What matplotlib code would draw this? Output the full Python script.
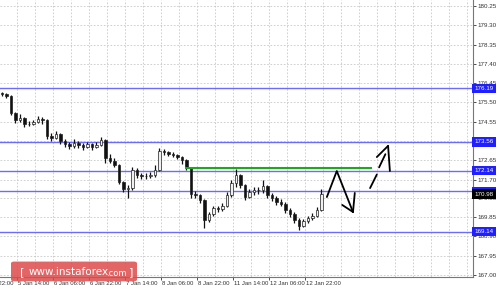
import numpy as np
import matplotlib
matplotlib.use("Agg")
import matplotlib.pyplot as plt
from matplotlib.patches import Rectangle, FancyBboxPatch
import matplotlib.transforms as mtransforms

# --- datos (barras de 2 horas) ---
opens = [175.95, 175.91, 175.82, 174.98, 174.63, 174.73, 174.44, 174.44, 174.54, 174.68,
         174.63, 173.85, 173.75, 173.94, 173.60, 173.45, 173.35, 173.50, 173.40, 173.30,
         173.45, 173.30, 173.40, 173.65, 172.76, 172.61, 172.42, 171.58, 171.24, 171.28,
         172.17, 171.92, 171.88, 171.88, 171.92, 172.17, 173.11, 173.06, 172.96, 172.91,
         172.81, 172.66, 172.27, 170.99, 170.94, 170.69, 169.71, 170.00, 170.30, 170.25,
         170.40, 170.94, 171.53, 171.92, 171.43, 170.84, 171.09, 171.19, 171.19, 171.38,
         170.94, 170.79, 170.60, 170.50, 170.20, 170.00, 169.71, 169.41, 169.66, 169.81,
         169.90, 170.20]
closes = [175.91, 175.82, 174.98, 174.63, 174.73, 174.44, 174.44, 174.54, 174.68, 174.63,
          173.85, 173.75, 173.94, 173.60, 173.45, 173.35, 173.50, 173.40, 173.30, 173.45,
          173.30, 173.40, 173.65, 172.76, 172.61, 172.42, 171.58, 171.24, 171.28, 172.17,
          171.92, 171.88, 171.88, 171.92, 172.17, 173.11, 173.06, 172.96, 172.91, 172.81,
          172.66, 172.27, 170.99, 170.94, 170.69, 169.71, 170.00, 170.30, 170.25, 170.40,
          170.94, 171.53, 171.92, 171.43, 170.84, 171.09, 171.19, 171.19, 171.38, 170.94,
          170.79, 170.60, 170.50, 170.20, 170.00, 169.71, 169.41, 169.66, 169.81, 169.90,
          170.20, 170.98]
highs = [176.02, 175.98, 175.85, 175.05, 174.95, 174.80, 174.58, 174.66, 174.85, 174.78,
         174.70, 173.98, 174.10, 173.98, 173.70, 173.55, 173.68, 173.62, 173.48, 173.55,
         173.50, 173.55, 173.78, 173.70, 172.95, 172.75, 172.48, 171.65, 171.45, 172.30,
         172.28, 172.02, 172.00, 172.08, 172.40, 173.25, 173.20, 173.12, 173.05, 172.98,
         172.85, 172.70, 172.30, 171.15, 171.00, 170.75, 170.12, 170.40, 170.42, 170.55,
         171.10, 171.70, 172.24, 171.98, 171.50, 171.25, 171.32, 171.35, 171.68, 171.45,
         171.02, 170.90, 170.75, 170.58, 170.28, 170.08, 169.80, 169.78, 169.92, 170.05,
         170.35, 171.25]
lows = [175.80, 175.70, 174.90, 174.50, 174.55, 174.30, 174.32, 174.40, 174.50, 174.45,
        173.70, 173.62, 173.68, 173.45, 173.30, 173.20, 173.25, 173.28, 173.15, 173.25,
        173.18, 173.25, 173.35, 172.50, 172.50, 172.30, 171.50, 171.10, 170.78, 171.20,
        171.80, 171.72, 171.75, 171.78, 171.85, 172.10, 172.92, 172.85, 172.80, 172.70,
        172.45, 172.15, 170.80, 170.78, 170.55, 169.32, 169.60, 169.90, 170.10, 170.15,
        170.35, 170.85, 171.35, 171.30, 170.70, 170.78, 170.95, 171.00, 171.05, 170.80,
        170.65, 170.45, 170.40, 170.05, 169.85, 169.55, 169.20, 169.35, 169.55, 169.72,
        169.85, 170.15]

niveles = [176.19, 173.56, 172.14, 171.12, 169.14]
nivel_verde = 172.27
verde_desde, verde_hasta = 40.9, 82.0

yticks = [167.00, 167.95, 168.90, 169.85, 170.80, 171.70, 172.65, 173.60,
          174.55, 175.50, 176.45, 177.40, 178.35, 179.30, 180.25]
xtick_pos = [-4.67, 3.33, 11.33, 19.33, 27.33, 35.33, 43.33, 51.33, 59.33, 67.33]
xtick_lab = ["4 Jan 22:00", "5 Jan 14:00", "6 Jan 06:00", "6 Jan 22:00", "7 Jan 14:00",
             "8 Jan 06:00", "8 Jan 22:00", "11 Jan 14:00", "12 Jan 06:00", "12 Jan 22:00"]

# flechas dibujadas a mano (x en barras, y en precio)
flecha1 = ([72.2, 74.4, 78.0], [170.84, 172.12, 170.10])
punta1a = ([75.6, 78.0], [170.45, 170.10])
punta1b = ([78.4, 78.0], [171.04, 170.10])
trazo2a = ([81.8, 83.3], [171.28, 171.95])
trazo2b = ([83.8, 85.2], [172.30, 172.95])
punta2a = ([83.3, 85.8], [172.81, 173.36])
punta2b = ([85.8, 86.2], [173.36, 172.12])

fuente = 'Liberation Sans'

fig = plt.figure(figsize=(5, 2.9), dpi=100)
ax = fig.add_axes([0.0, 0.045, 0.946, 0.955])

x = np.arange(len(closes))
ax.vlines(x, lows, highs, color='#111111', lw=0.9, zorder=3)
for i in range(len(closes)):
    o, c = opens[i], closes[i]
    bajo = min(o, c)
    alto = max(max(o, c) - bajo, 0.02)
    fc = '#111111' if c < o else '#f0f0f0'
    ax.add_patch(Rectangle((i - 0.25, bajo), 0.5, alto, fc=fc, ec='#222222', lw=0.5, zorder=4))

for n in niveles:
    ax.axhline(n, color='#6b6bff', lw=1.0, zorder=2)
ax.plot([verde_desde, verde_hasta], [nivel_verde, nivel_verde], color='#1fa81f', lw=1.5, zorder=5)

for tr in [flecha1, punta1a, punta1b, trazo2a, trazo2b, punta2a, punta2b]:
    ax.plot(tr[0], tr[1], color='black', lw=1.3, solid_capstyle='round', zorder=6)

ax.set_xlim(-0.44, 104.67)
ax.set_ylim(166.90, 180.55)

# rejilla
for xv in np.arange(xtick_pos[1], 104, 4):
    ax.axvline(xv, color='#c8c8c8', lw=0.6, ls=(0, (2, 2)), zorder=1)
for yv in yticks:
    ax.axhline(yv, color='#c8c8c8', lw=0.6, ls=(0, (2, 2)), zorder=1)

ax.yaxis.tick_right()
ax.set_yticks(yticks)
ax.set_yticklabels(["%.2f" % v for v in yticks], fontsize=4.5, color='#333333', family=fuente)
ax.tick_params(axis='y', length=2, width=0.6, pad=1.5, colors='#333333')
ax.set_xticks([p for p in xtick_pos if p > -0.44])
ax.set_xticklabels([])
ax.tick_params(axis='x', length=2.5, width=0.6, colors='#333333')

trans = mtransforms.blended_transform_factory(ax.transData, ax.transAxes)
for p, lab in zip(xtick_pos, xtick_lab):
    ax.text(p + 0.3, -0.014, lab, transform=trans, fontsize=4.3, color='#333333',
            ha='left', va='top', clip_on=False, family=fuente)

for s in ['left', 'top']:
    ax.spines[s].set_visible(False)
ax.spines['right'].set_color('#777777')
ax.spines['bottom'].set_color('#777777')
ax.spines['right'].set_linewidth(0.8)
ax.spines['bottom'].set_linewidth(0.8)

# etiquetas de niveles
ytr = mtransforms.blended_transform_factory(ax.transAxes, ax.transData)
for n in niveles:
    ax.text(1.003, n, "%.2f" % n, transform=ytr, fontsize=4.5, color='white', ha='left',
            va='center', clip_on=False, zorder=10, family=fuente,
            bbox=dict(boxstyle='square,pad=0.35', fc='#1f1fff', ec='none'))
ax.text(1.003, closes[-1], "%.2f" % closes[-1], transform=ytr, fontsize=4.5, color='white',
        ha='left', va='center', clip_on=False, zorder=10, family=fuente,
        bbox=dict(boxstyle='square,pad=0.35', fc='black', ec='none'))

# marca de agua
fig.patches.append(FancyBboxPatch((0.022, 0.03), 0.252, 0.068, boxstyle='round,pad=0.0,rounding_size=0.006',
                                  transform=fig.transFigure, fc='#dd4b4b', ec='none', alpha=0.85, zorder=20))
fig.text(0.04, 0.062, "[", color='white', fontsize=8, va='center', ha='left', zorder=21)
fig.text(0.058, 0.062, "www.instaforex", color='white', fontsize=7.5, va='center', ha='left', zorder=21)
fig.text(0.212, 0.058, ".com", color='white', fontsize=6, va='center', ha='left', zorder=21)
fig.text(0.258, 0.062, "]", color='white', fontsize=8, va='center', ha='left', zorder=21)

fig.savefig("out.png", dpi=100)
